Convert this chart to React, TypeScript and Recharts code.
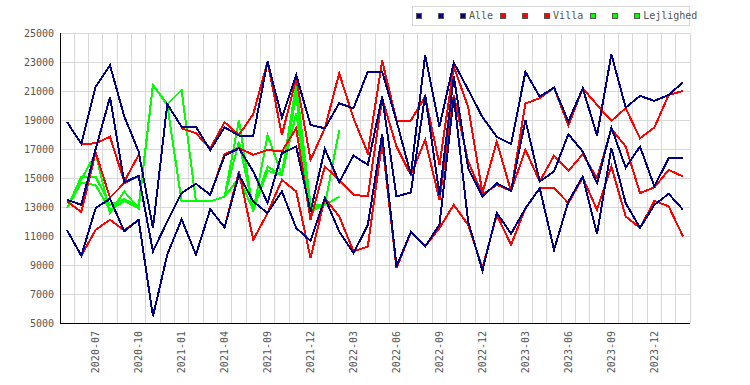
import React from "react";
import { LineChart, Line, XAxis, YAxis, CartesianGrid, Legend } from "recharts";

const months = [
  "2020-05", "2020-06", "2020-07", "2020-08", "2020-09", "2020-10", "2020-11", "2020-12",
  "2021-01", "2021-02", "2021-03", "2021-04", "2021-05", "2021-08", "2021-09", "2021-10",
  "2021-11", "2021-12", "2022-01", "2022-02", "2022-03", "2022-04", "2022-05", "2022-06",
  "2022-07", "2022-08", "2022-09", "2022-10", "2022-11", "2022-12", "2023-01", "2023-02",
  "2023-03", "2023-04", "2023-05", "2023-06", "2023-07", "2023-08", "2023-09", "2023-10",
  "2023-11", "2023-12", "2024-01", "2024-02",
];

const tickLabels = [
  "2020-07", "2020-10", "2021-01", "2021-04", "2021-09", "2021-12", "2022-03",
  "2022-06", "2022-09", "2022-12", "2023-03", "2023-06", "2023-09", "2023-12",
];

const yTicks = [5000, 7000, 9000, 11000, 13000, 15000, 17000, 19000, 21000, 23000, 25000];

// Alle
const alleHi = [
  18870, 17350, 21290, 22780, 19240, 16830, 11545, 20090, 18530, 18530, 16920,
  18500, 17930, 17930, 23030, 19170, 22110, 18660, 18430, 20150, 19810, 22340,
  22340, 18950, 15220, 23480, 18550, 22960, 21100, 19200, 17840, 17340, 22320,
  20610, 21230, 18890, 21190, 17930, 23530, 19860, 20660, 20320, 20730, 21600,
];
const alleMid = [
  13500, 13150, 17000, 20570, 14710, 15150, 9940, 12000, 13960, 14600, 13840,
  16530, 17060, 15450, 13270, 16710, 17170, 12690, 17010, 14710, 16550, 15910,
  20610, 13730, 14000, 20730, 13840, 22000, 15680, 13730, 14640, 14120, 18990,
  14760, 15450, 18020, 16830, 14640, 18480, 15720, 17170, 14420, 16370, 16370,
];
const alleLo = [
  11400, 9640, 12920, 13570, 11320, 12120, 5460, 9710, 12160, 9710, 12850,
  11590, 15220, 13380, 12580, 14070, 11550, 10670, 13610, 11320, 9820, 11770,
  18020, 8900, 11270, 10280, 11770, 20600, 12000, 8610, 12600, 11150, 12900,
  14300, 10050, 13380, 15100, 11130, 17060, 13270, 11550, 13150, 13910, 12810,
];

// Villa
const villaHi = [
  18870, 17350, 17390, 17840, 14750, 16600, null, null, 18430, 18090, 17030,
  18850, 17970, 19400, 23030, 17970, 21880, 16250, 18430, 22220, 19120, 16710,
  23100, 18960, 18960, 20610, 15910, 22680, 19900, 13960, 17510, 14060, 20140,
  20500, 21230, 18620, 21190, 20040, 18940, 19810, 17740, 18480, 20730, 21000,
];
const villaMid = [
  13400, 12650, 16760, 13650, 14650, 15150, null, null, 13960, 14600, 13840,
  16650, 17060, 16600, 16940, 16830, 18430, 12120, 15790, 14870, 13840, 13730,
  20500, 17170, 15220, 17630, 13500, 20730, 16140, 13840, 14530, 14120, 16940,
  14760, 16550, 15490, 16640, 14990, 18390, 17170, 13960, 14350, 15560, 15100,
];
const villaLo = [
  11400, 9640, 11430, 12120, 11390, 12120, null, null, 12160, 9710, 12850,
  11590, 15450, 10740, 12580, 14870, 14070, 9480, 13610, 12350, 9940, 10280,
  17510, 8790, 11270, 10280, 11550, 13150, 11770, 8790, 12460, 10390, 12920,
  14300, 14300, 13270, 15030, 12810, 15790, 12350, 11550, 13430, 13040, 10970,
];

// Lejlighed
const lejHi = [
  12920, 14900, 16710, 12580, 14070, 12920, 21420, 20090, 21070, 13380, 13380,
  13720, 18990, 12700, 17960, 15210, 21500, 13140, 13140, 18300, null, null,
  null, null, null, null, null, null, null, null, null, null, null,
  null, null, null, null, null, null, null, null, null, null, null,
];
const lejMid = [
  12920, 15090, 15090, 13150, 13540, 13030, 21420, 20030, 13380, 13380, 13380,
  13720, 17500, 12900, 15780, 15210, 20700, 12920, 13140, 13710, null, null,
  null, null, null, null, null, null, null, null, null, null, null,
  null, null, null, null, null, null, null, null, null, null, null,
];
const lejLo = [
  12920, 14680, 14500, 12810, 13400, 12900, 21420, 20030, 13380, 13380, 13380,
  13720, 15000, 12800, 15500, 15210, 19500, 12700, 13140, 13710, null, null,
  null, null, null, null, null, null, null, null, null, null, null,
  null, null, null, null, null, null, null, null, null, null, null,
];

const NAVY = "#000080";
const RED = "#ff0000";
const GREEN = "#00ff00";
const FONT = "'DejaVu Sans Mono', monospace";
const TEXT = "#555555";
const GRID = "#d8d8d8";

// draw order: green first, then red, navy on top
const series = [
  { key: "lejLo", name: "", color: GREEN, values: lejLo },
  { key: "lejMid", name: "", color: GREEN, values: lejMid },
  { key: "lejHi", name: "Lejlighed", color: GREEN, values: lejHi },
  { key: "villaLo", name: "", color: RED, values: villaLo },
  { key: "villaMid", name: "", color: RED, values: villaMid },
  { key: "villaHi", name: "Villa", color: RED, values: villaHi },
  { key: "alleLo", name: "", color: NAVY, values: alleLo },
  { key: "alleMid", name: "", color: NAVY, values: alleMid },
  { key: "alleHi", name: "Alle", color: NAVY, values: alleHi },
];

const legendOrder = ["alleLo", "alleMid", "alleHi", "villaLo", "villaMid", "villaHi", "lejLo", "lejMid", "lejHi"];

const data = months.map((m, i) => {
  const row: Record<string, string | number | null> = { month: m };
  series.forEach((s) => {
    row[s.key] = s.values[i];
  });
  return row;
});

const XTick = (props: any) => {
  const { x, y, payload } = props;
  return (
    <text
      x={x}
      y={y}
      transform={`rotate(-90, ${x}, ${y})`}
      textAnchor="end"
      dy="0.35em"
      fill={TEXT}
      fontSize={10}
      fontFamily={FONT}
    >
      {payload.value}
    </text>
  );
};

const LegendBox = () => (
  <div
    style={{
      position: "relative",
      boxSizing: "border-box",
      height: 20,
      width: 278,
      border: `1px solid ${GRID}`,
      background: "#fff",
    }}
  >
    <div
      style={{
        position: "absolute",
        left: 3,
        top: 0,
        height: 18,
        display: "flex",
        alignItems: "center",
        whiteSpace: "nowrap",
        fontFamily: FONT,
        fontSize: 10,
        lineHeight: "18px",
        color: TEXT,
      }}
    >
      {legendOrder.map((k) => {
        const s = series.find((x) => x.key === k)!;
        return (
          <span key={k} style={{ display: "inline-flex", alignItems: "center", marginRight: 7 }}>
            <span
              style={{
                display: "inline-block",
                boxSizing: "border-box",
                width: 6,
                height: 6,
                background: s.color,
                border: "1px solid #555",
              }}
            />
            <span style={{ marginLeft: 3, display: "inline-block", minWidth: 6 }}>{s.name}</span>
          </span>
        );
      })}
    </div>
  </div>
);

export default function App() {
  return (
    <div style={{ position: "absolute", left: 0, top: 0, width: 750, height: 385, background: "#fff" }}>
      <LineChart
        width={750}
        height={385}
        data={data}
        margin={{ top: 33, right: 60, bottom: 0, left: 0 }}
        style={{ shapeRendering: "crispEdges" }}
      >
        <CartesianGrid
          stroke={GRID}
          verticalCoordinatesGenerator={({ offset }: any) =>
            Array.from({ length: months.length + 1 }, (_, i) => offset.left + (i * offset.width) / months.length)
          }
        />
        <XAxis
          dataKey="month"
          ticks={tickLabels}
          interval={0}
          tick={<XTick />}
          tickLine={false}
          axisLine={{ stroke: "#000" }}
          height={62}
          padding={{ left: 7, right: 7 }}
        />
        <YAxis
          domain={[5000, 25000]}
          ticks={yTicks}
          interval={0}
          tickLine={false}
          tickSize={4}
          tickMargin={2}
          axisLine={{ stroke: "#000" }}
          width={60}
          tick={{ fill: TEXT, fontSize: 10, fontFamily: FONT }}
        />
        <Legend
          layout="vertical"
          align="center"
          verticalAlign="middle"
          content={<LegendBox />}
          wrapperStyle={{ top: 6, left: 412, width: 278, height: 20 }}
        />
        {series.map((s) => (
          <Line
            key={s.key}
            dataKey={s.key}
            name={s.name}
            type="linear"
            stroke={s.color}
            strokeWidth={2}
            dot={false}
            activeDot={false}
            connectNulls={false}
            isAnimationActive={false}
          />
        ))}
      </LineChart>
    </div>
  );
}
